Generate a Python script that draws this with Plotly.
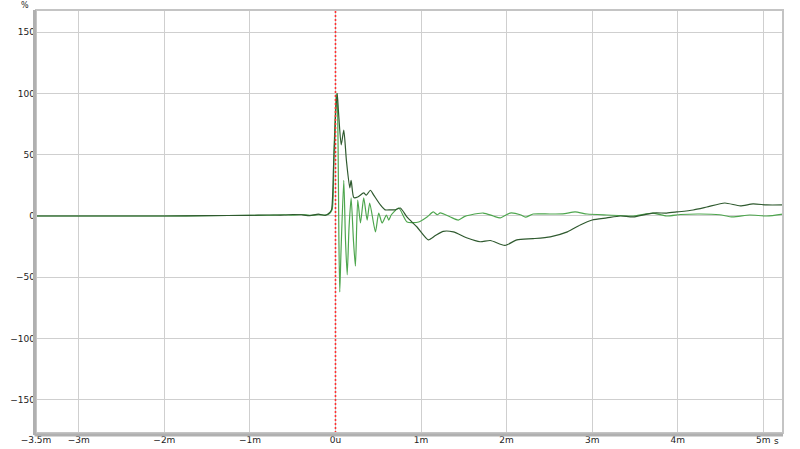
import plotly.graph_objects as go

# time in ms, amplitude in %
dark_t = [-3.5, -2.5, -2.0, -1.5, -1.0, -0.8, -0.6, -0.5, -0.4, -0.3, -0.2, -0.12, -0.08,
          -0.047, -0.023, 0.0, 0.02, 0.035, 0.067, 0.097, 0.128, 0.167, 0.183, 0.214, 0.26,
          0.33, 0.36, 0.408, 0.447, 0.525, 0.58, 0.642, 0.70, 0.758, 0.837, 0.953, 1.085,
          1.167, 1.26, 1.377, 1.54, 1.69, 1.81, 1.98, 2.12, 2.31, 2.51, 2.71, 2.86, 3.0,
          3.17, 3.33, 3.48, 3.71, 3.87, 3.99, 4.18, 4.34, 4.55, 4.73, 4.88, 5.04, 5.23]
dark_v = [0, 0, 0, 0.3, 0.5, 0.8, 0.8, 1.2, 1.0, 0.3, 1.5, 0.5, 2,
          5, 40, 80, 100, 85, 58, 70, 45, 23, 29, 15, 15.5,
          18.8, 17, 21, 17, 9, 5, 5, 5, 6.5, -1, -9, -19.5,
          -16, -12.5, -13, -18, -21, -20, -24, -19.5, -18.5, -17, -13, -7.3, -3.3,
          -1.6, 0, -0.8, 2.4, 2.4, 3.3, 4.9, 7.3, 10.6, 8.2, 9.8, 9, 9]

light_t = [-3.5, -2.5, -2.0, -1.5, -1.0, -0.8, -0.6, -0.5, -0.4, -0.3, -0.2, -0.12, -0.08,
           -0.04, -0.018, 0.006, 0.018, 0.03, 0.04, 0.05, 0.064, 0.097, 0.117, 0.137, 0.158,
           0.183, 0.21, 0.233, 0.26, 0.292, 0.33, 0.37, 0.40, 0.467, 0.505, 0.545, 0.595,
           0.622, 0.653, 0.739, 0.837, 0.972, 1.07, 1.143, 1.19, 1.225, 1.342, 1.435, 1.505,
           1.575, 1.727, 1.844, 1.925, 2.04, 2.16, 2.22, 2.31, 2.51, 2.68, 2.8, 2.94, 3.17,
           3.48, 3.71, 3.87, 4.03, 4.26, 4.49, 4.64, 4.84, 5.04, 5.23]
light_v = [0, 0, 0, 0.3, 0.5, 0.6, 1.0, 0.6, 1.2, 0.5, 1.0, 0.8, 1.5,
           5, 50, 95, 100, 60, -20, -62, -30, 29, -20, -48, -10,
           14.7, -20, -41, 13, -5.7, 14.7, -3.3, 10.6, -13, 2.4, -5.7, 0.8,
           -3.3, 1, 6.5, -4.9, -4.9, -0.8, 3.3, 1, 2.5, -0.8, -3.3, -0.5,
           0.8, 2.4, 0, -1.6, 2.4, 1, -1, 1.6, 1.6, 2, 3.3, 1.6, 0.8,
           0, 2.4, 0, 1.2, 1.6, 1, -0.8, 0.8, 0, 1.6]

x_tickvals = [-3.5, -3, -2, -1, 0, 1, 2, 3, 4, 5]
x_ticktext = ["\u22123.5m", "\u22123m", "\u22122m", "\u22121m", "0u", "1m", "2m", "3m", "4m", "5m"]
y_tickvals = [-150, -100, -50, 0, 50, 100, 150]
y_ticktext = ["\u2212150", "\u2212100", "\u221250", "0", "50", "100", "150"]

fig = go.Figure()
fig.add_trace(go.Scatter(x=light_t, y=light_v, mode="lines", line=dict(color="#4ea64e", width=1.2, shape="spline", smoothing=0.6)))
fig.add_trace(go.Scatter(x=dark_t, y=dark_v, mode="lines", line=dict(color="#2f5a2f", width=1.2, shape="spline", smoothing=0.6)))

font = dict(family="DejaVu Sans", size=9, color="#222222")
fig.update_layout(
    width=800, height=449,
    margin=dict(l=36, r=17, t=10, b=16),
    paper_bgcolor="white", plot_bgcolor="white",
    showlegend=False,
    font=font,
    xaxis=dict(range=[-3.5, 5.23], tickvals=x_tickvals, ticktext=x_ticktext,
               showgrid=True, gridcolor="#cfcfcf", gridwidth=1, zeroline=False,
               showline=False, ticks="", tickfont=font, automargin=False),
    yaxis=dict(range=[-177, 168], tickvals=y_tickvals, ticktext=y_ticktext,
               showgrid=True, gridcolor="#cfcfcf", gridwidth=1, zeroline=False,
               showline=False, ticks="", tickfont=font, automargin=False),
    shapes=[
        dict(type="line", xref="x", yref="paper", x0=0, x1=0, y0=0, y1=1,
             line=dict(color="#ff3030", width=1.6, dash="2px,2px")),
        dict(type="rect", xref="paper", yref="paper", x0=0, x1=1, y0=0, y1=1,
             line=dict(color="#c4c4c4", width=2)),
        dict(type="line", xref="paper", yref="paper", x0=-0.002, x1=-0.002, y0=-0.005, y1=1,
             line=dict(color="#b0b0b0", width=3)),
        dict(type="line", xref="paper", yref="paper", x0=-0.002, x1=1, y0=-0.005, y1=-0.005,
             line=dict(color="#b0b0b0", width=3)),
    ],
    annotations=[
        dict(text="%", xref="paper", yref="paper", x=-0.007, y=1.0, xanchor="right", yanchor="middle",
             yshift=5, showarrow=False, font=dict(family="DejaVu Sans", size=8, color="#222222")),
        dict(text="s", xref="paper", yref="paper", x=0.991, y=0, xanchor="center", yanchor="top",
             yshift=-1, showarrow=False, font=font),
    ],
)
fig.write_html("out.html", config={"displayModeBar": False},
               post_script="document.body.style.margin='0';document.body.style.padding='0';document.body.style.overflow='hidden';")
